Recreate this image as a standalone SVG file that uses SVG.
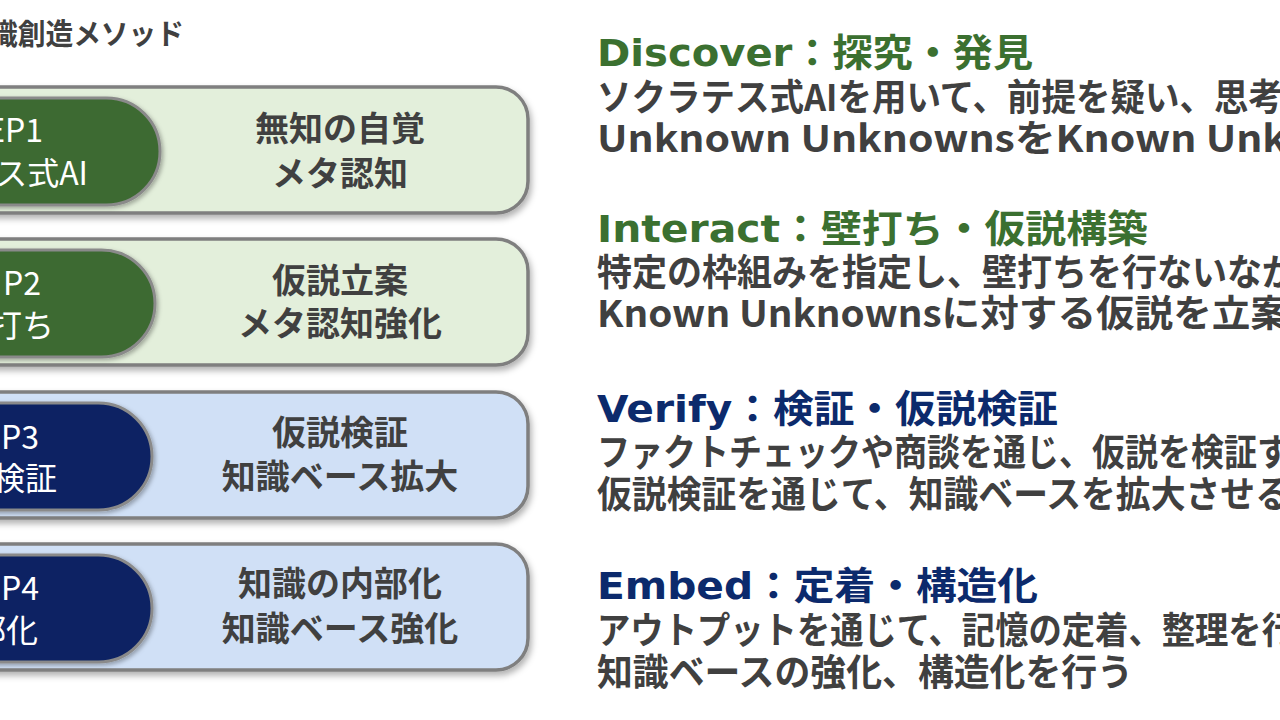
<svg xmlns="http://www.w3.org/2000/svg" width="1280" height="720" viewBox="0 0 1280 720">
<defs>
<filter id="sh" x="-10%" y="-20%" width="125%" height="150%">
<feDropShadow dx="2" dy="4" stdDeviation="3" flood-color="#000" flood-opacity="0.3"/>
</filter>
<filter id="sh2" x="-10%" y="-20%" width="125%" height="150%">
<feDropShadow dx="2" dy="2" stdDeviation="2" flood-color="#000" flood-opacity="0.3"/>
</filter>
</defs>
<style>
.box{stroke:#7f7f7f;stroke-width:3.5;filter:url(#sh)}
.g{fill:#e3efdb}
.b{fill:#d0e0f6}
.pill{stroke:#8a8a8a;stroke-width:3;filter:url(#sh2)}
.pg{fill:#3d6b33}
.pb{fill:#0b2263}
.pt{font-family:"Noto Sans CJK JP",sans-serif;font-size:32px;fill:#fff;text-anchor:end}
.bt{font-family:"Noto Sans CJK JP",sans-serif;font-weight:bold;font-size:34px;fill:#404040;text-anchor:middle}
.title{font-family:"Noto Sans CJK JP",sans-serif;font-weight:bold;font-size:29px;fill:#404040}
.hd{font-family:"DejaVu Sans","Noto Sans CJK JP",sans-serif;font-weight:bold;font-size:38px}
.hg{fill:#3b7030}
.hb{fill:#0c2a6c}
.bd{font-family:"Noto Sans CJK JP",sans-serif;font-weight:bold;font-size:37px;fill:#404040}
</style>
<rect width="1280" height="720" fill="#fff"/>
<g id="title"><text class="title" x="184" y="45" text-anchor="end" textLength="194" lengthAdjust="spacingAndGlyphs">識創造メソッド</text></g>

<g id="step1">
<rect class="box g" x="-40" y="87" width="568" height="126" rx="32"/>
<rect class="pill pg" x="-60" y="98" width="220" height="107" rx="53.5"/>
<text class="pt" x="43" y="142">EP1</text>
<text class="pt" x="88" y="185">ス式AI</text>
<text class="bt" x="340" y="141">無知の自覚</text>
<text class="bt" x="340" y="186">メタ認知</text>
</g>
<g id="step2">
<rect class="box g" x="-40" y="239" width="568" height="126" rx="32"/>
<rect class="pill pg" x="-60" y="250" width="215" height="107" rx="53.5"/>
<text class="pt" x="41" y="295">P2</text>
<text class="pt" x="54" y="337">壁打ち</text>
<text class="bt" x="340" y="293">仮説立案</text>
<text class="bt" x="340" y="336">メタ認知強化</text>
</g>
<g id="step3">
<rect class="box b" x="-40" y="392" width="568" height="126" rx="32"/>
<rect class="pill pb" x="-60" y="403" width="212" height="107" rx="53.5"/>
<text class="pt" x="39" y="449">P3</text>
<text class="pt" x="57" y="490">検証</text>
<text class="bt" x="340" y="445">仮説検証</text>
<text class="bt" x="340" y="489">知識ベース拡大</text>
</g>
<g id="step4">
<rect class="box b" x="-40" y="544" width="568" height="126" rx="32"/>
<rect class="pill pb" x="-60" y="555" width="212" height="107" rx="53.5"/>
<text class="pt" x="39" y="600">P4</text>
<text class="pt" x="38" y="642">部化</text>
<text class="bt" x="340" y="596">知識の内部化</text>
<text class="bt" x="340" y="641">知識ベース強化</text>
</g>

<g id="discover">
<text class="hd hg" x="597" y="66" textLength="436" lengthAdjust="spacingAndGlyphs">Discover：探究・発見</text>
<text class="bd" x="597" y="111" textLength="686" lengthAdjust="spacingAndGlyphs">ソクラテス式AIを用いて、前提を疑い、思考</text>
<text class="bd" x="597" y="152" textLength="690" lengthAdjust="spacingAndGlyphs">Unknown UnknownsをKnown Unk</text>
</g>
<g id="interact">
<text class="hd hg" x="597" y="242" textLength="551" lengthAdjust="spacingAndGlyphs">Interact：壁打ち・仮説構築</text>
<text class="bd" x="597" y="286" textLength="700" lengthAdjust="spacingAndGlyphs">特定の枠組みを指定し、壁打ちを行ないなが</text>
<text class="bd" x="597" y="327" textLength="692" lengthAdjust="spacingAndGlyphs">Known Unknownsに対する仮説を立案</text>
</g>
<g id="verify">
<text class="hd hb" x="597" y="422" textLength="461" lengthAdjust="spacingAndGlyphs">Verify：検証・仮説検証</text>
<text class="bd" x="597" y="466" textLength="693" lengthAdjust="spacingAndGlyphs">ファクトチェックや商談を通じ、仮説を検証す</text>
<text class="bd" x="597" y="508" textLength="693" lengthAdjust="spacingAndGlyphs">仮説検証を通じて、知識ベースを拡大させる</text>
</g>
<g id="embed">
<text class="hd hb" x="597" y="599" textLength="441" lengthAdjust="spacingAndGlyphs">Embed：定着・構造化</text>
<text class="bd" x="597" y="644" textLength="698" lengthAdjust="spacingAndGlyphs">アウトプットを通じて、記憶の定着、整理を行</text>
<text class="bd" x="597" y="686" textLength="536" lengthAdjust="spacingAndGlyphs">知識ベースの強化、構造化を行う</text>
</g>
<g id="connectors"/>
</svg>
